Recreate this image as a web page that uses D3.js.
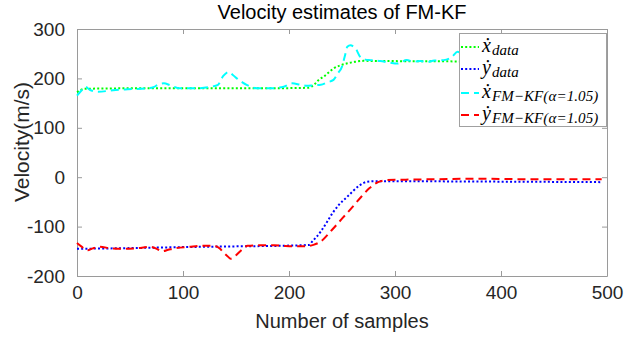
<!DOCTYPE html>
<html>
<head>
<meta charset="utf-8">
<script src="https://cdn.jsdelivr.net/npm/d3@7/dist/d3.min.js"></script>
<style>
  html, body { margin: 0; padding: 0; background: #fff; }
  svg { display: block; }
</style>
</head>
<body>
<svg id="chart" width="641" height="337"></svg>
<script>
// Sample index (x) and velocity (m/s) for each series
const xDataSamples = [0, 4, 8, 60, 120, 180, 218, 224, 228, 233, 238, 242, 248, 255, 262, 270, 300, 350, 400, 450, 495];
const xDataValues  = [172, 177, 179, 180, 180, 180, 181, 188, 197, 204, 213, 220, 226, 230.5, 233.5, 235.5, 235, 234.5, 234, 234, 234];

const yDataSamples = [0, 50, 100, 150, 200, 219, 222, 230, 236, 241, 247, 255, 260, 267, 274, 280, 300, 350, 400, 450, 495];
const yDataValues  = [-145, -143.5, -141.5, -140, -138.5, -137, -130, -110, -90, -73, -56, -39.5, -29, -16, -9, -8, -8, -8.5, -9, -9.5, -10];

const xKfSamples = [0, 4, 8, 12, 20, 34, 48, 66, 72, 77, 82, 88, 97, 113, 126, 133, 138, 143, 147, 152, 156, 160, 170, 182, 195, 203, 211, 217, 223, 230, 236, 242, 246, 250, 253, 255, 258, 261, 263, 267, 272, 277, 286, 295, 302, 311, 318, 324, 330, 337, 346, 354, 359, 364, 370, 380, 420, 460, 495];
const xKfValues  = [165, 175, 183, 177, 173, 176, 178, 180, 182, 188, 190, 186, 180, 180, 183, 187, 205, 213, 207, 198, 192, 187, 180, 180, 183, 190, 187, 185, 186, 187, 192, 197, 210, 224, 248, 264, 267, 264, 260, 244, 238, 237, 235, 232, 230, 237, 234, 235, 233, 236, 237, 244, 254, 246, 238, 236, 235, 235, 235];

const yKfSamples = [0, 4, 10, 15, 21, 32, 43, 55, 70, 76, 80, 86, 92, 106, 117, 130, 135, 138, 142, 145, 150, 156, 161, 170, 186, 194, 205, 214, 223, 230, 240, 250, 260, 268, 276, 284, 292, 310, 340, 380, 420, 460, 495];
const yKfValues  = [-133, -140, -148, -144, -141, -144, -145, -144, -141, -146, -150, -147, -144, -141, -139, -139, -145, -152, -160, -165, -158, -146, -139, -138, -138, -139, -140, -140, -137, -130, -108, -84, -60, -40, -22, -10, -6, -5, -4, -3, -4, -4, -4];

const xTicks = [0, 100, 200, 300, 400, 500];
const yTicks = [-200, -100, 0, 100, 200, 300];

const titleText = "Velocity estimates of FM-KF";
const xLabelText = "Number of samples";
const yLabelText = "Velocity(m/s)";

const series = [
  { name: "xData", samples: xDataSamples, values: xDataValues, color: "#00ff00", dash: "2,2.2", main: "\u1E8B", sub: "data" },
  { name: "yData", samples: yDataSamples, values: yDataValues, color: "#0000ff", dash: "2,2.2", main: "\u1E8F", sub: "data" },
  { name: "xKf",   samples: xKfSamples,   values: xKfValues,   color: "#00ffff", dash: "8,5",   main: "\u1E8B", sub: "FM\u2212KF(\u03B1=1.05)" },
  { name: "yKf",   samples: yKfSamples,   values: yKfValues,   color: "#ff0000", dash: "8,5",   main: "\u1E8F", sub: "FM\u2212KF(\u03B1=1.05)" }
];

const svg = d3.select("#chart");
const W = 641, H = 337;
const margin = { left: 77, right: 34, top: 29, bottom: 61 };
const plotW = W - margin.left - margin.right;
const plotH = H - margin.top - margin.bottom;

svg.append("rect").attr("width", W).attr("height", H).attr("fill", "#fff");

const x = d3.scaleLinear().domain([0, 500]).range([margin.left, margin.left + plotW]);
const y = d3.scaleLinear().domain([-200, 300]).range([margin.top + plotH, margin.top]);

const axisColor = "#9a9a9a";
const labelColor = "#262626";
const sansFont = "'Liberation Sans', Arial, Helvetica, sans-serif";
// plain hyphen for negative tick labels
const tickFmt = d => String(d);

function styleAxis(g, showLabels) {
  g.select(".domain").attr("stroke", axisColor).attr("stroke-width", 1);
  g.selectAll(".tick line").attr("stroke", axisColor).attr("stroke-width", 1);
  g.selectAll(".tick text")
    .attr("fill", labelColor)
    .style("font-family", sansFont)
    .style("font-size", "19px")
    .style("display", showLabels ? null : "none");
}

// Box axes with inward ticks on all four sides
svg.append("g").attr("transform", `translate(0,${margin.top + plotH})`)
  .call(d3.axisBottom(x).tickValues(xTicks).tickSize(-5).tickSizeOuter(0).tickPadding(10).tickFormat(tickFmt))
  .call(g => styleAxis(g, true));
svg.append("g").attr("transform", `translate(0,${margin.top})`)
  .call(d3.axisTop(x).tickValues(xTicks).tickSize(-5).tickSizeOuter(0))
  .call(g => styleAxis(g, false));
svg.append("g").attr("transform", `translate(${margin.left},0)`)
  .call(d3.axisLeft(y).tickValues(yTicks).tickSize(-5).tickSizeOuter(0).tickPadding(12).tickFormat(tickFmt))
  .call(g => styleAxis(g, true));
svg.append("g").attr("transform", `translate(${margin.left + plotW},0)`)
  .call(d3.axisRight(y).tickValues(yTicks).tickSize(-5).tickSizeOuter(0))
  .call(g => styleAxis(g, false));

// Series lines
const line = d3.line()
  .x(d => x(d[0]))
  .y(d => y(d[1]))
  .curve(d3.curveMonotoneX);

const lines = svg.append("g");
series.forEach(s => {
  const pts = s.samples.map((v, i) => [v, s.values[i]]);
  lines.append("path")
    .datum(pts)
    .attr("fill", "none")
    .attr("stroke", s.color)
    .attr("stroke-width", 2)
    .attr("stroke-dasharray", s.dash)
    .attr("d", line);
});

// Title and axis labels
svg.append("text")
  .attr("x", margin.left + plotW / 2).attr("y", 19)
  .attr("text-anchor", "middle")
  .style("font-family", sansFont).style("font-size", "20px")
  .attr("fill", "#000")
  .text(titleText);

svg.append("text")
  .attr("x", margin.left + plotW / 2).attr("y", 328)
  .attr("text-anchor", "middle")
  .style("font-family", sansFont).style("font-size", "20px")
  .attr("fill", labelColor)
  .text(xLabelText);

svg.append("text")
  .attr("transform", `translate(29,142) rotate(-90)`)
  .attr("text-anchor", "middle")
  .style("font-family", sansFont).style("font-size", "21px")
  .attr("fill", labelColor)
  .text(yLabelText);

// Legend
const legend = svg.append("g");
legend.append("rect")
  .attr("x", 459.5).attr("y", 33.5).attr("width", 147).attr("height", 93)
  .attr("fill", "#fff").attr("stroke", "#a0a0a0").attr("stroke-width", 1);

const rowY = [47, 69, 93, 115];
const serifFont = "'Liberation Serif', 'DejaVu Serif', 'Times New Roman', serif";
series.forEach((s, i) => {
  legend.append("line")
    .attr("x1", 461).attr("x2", 479)
    .attr("y1", rowY[i]).attr("y2", rowY[i])
    .attr("stroke", s.color).attr("stroke-width", 2)
    .attr("stroke-dasharray", s.dash);
  const t = legend.append("text")
    .attr("x", 482).attr("y", rowY[i] + 5)
    .style("font-family", serifFont)
    .style("font-style", "italic")
    .attr("fill", "#000");
  t.append("tspan").style("font-size", "20px").text(s.main);
  t.append("tspan").style("font-size", "15px").style("letter-spacing", "0.1px")
    .attr("dy", 3).attr("dx", 1).text(s.sub);
});
</script>
</body>
</html>
